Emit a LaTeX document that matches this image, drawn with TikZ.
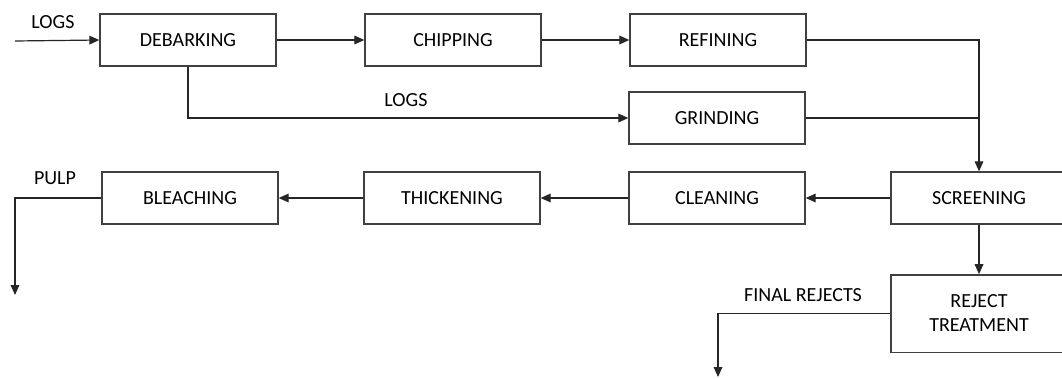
\documentclass[tikz,border=0pt]{standalone}
\usepackage{fontspec}
\setmainfont{Carlito}
\usetikzlibrary{arrows.meta}
\begin{document}
\begin{tikzpicture}[x=0.75pt, y=-0.75pt,
    stage/.style={draw=black!75, line width=1pt, minimum width=132pt, minimum height=39pt, inner sep=0pt, align=center, font=\fontsize{15}{18}\selectfont},
    flow/.style={draw=black!85, line width=0.9pt, -{Triangle[length=7.5pt,width=6.5pt]}},
    link/.style={draw=black!85, line width=0.9pt},
    lbl/.style={font=\fontsize{15}{18}\selectfont, inner sep=0pt}
]
\useasboundingbox (0,0) rectangle (1062,378);

% ---- stages ----
\node[stage] (debark) at (188,40) {DEBARKING};
\node[stage] (chip) at (453,40) {CHIPPING};
\node[stage] (refine) at (718,40) {REFINING};
\node[stage] (grind) at (717,118) {GRINDING};
\node[stage] (screen) at (979,198) {SCREENING};
\node[stage] (clean) at (717,198) {CLEANING};
\node[stage] (thick) at (452,198) {THICKENING};
\node[stage] (bleach) at (190,198) {BLEACHING};
\node[stage, minimum height=58pt] (reject) at (979,313.5) {REJECT\\TREATMENT};

% ---- free ends ----
\coordinate (logsin) at (15,41);
\coordinate (pulpout) at (15,295);
\coordinate (rejout) at (718,377);

% ---- flows ----
\draw[flow] (logsin) -- (debark.west);
\draw[flow] (debark) -- (chip);
\draw[flow] (chip) -- (refine);
\draw[flow] (debark.south) |- (grind.west);
\draw[flow] (refine.east) -| (screen.north);
\draw[link] (grind.east) -- (grind.east -| screen.north);
\draw[flow] (screen) -- (clean);
\draw[flow] (clean) -- (thick);
\draw[flow] (thick) -- (bleach);
\draw[flow] (bleach.west) -| (pulpout);
\draw[flow] (screen) -- (reject);
\draw[flow] (reject.west) -| (rejout);

% ---- labels ----
\node[lbl] (logs1) at (53,22) {LOGS};
\node[lbl] (logs2) at (406,100) {LOGS};
\node[lbl] (pulp) at (55,178) {PULP};
\node[lbl] (final) at (803,295) {FINAL REJECTS};

\end{tikzpicture}
\end{document}
